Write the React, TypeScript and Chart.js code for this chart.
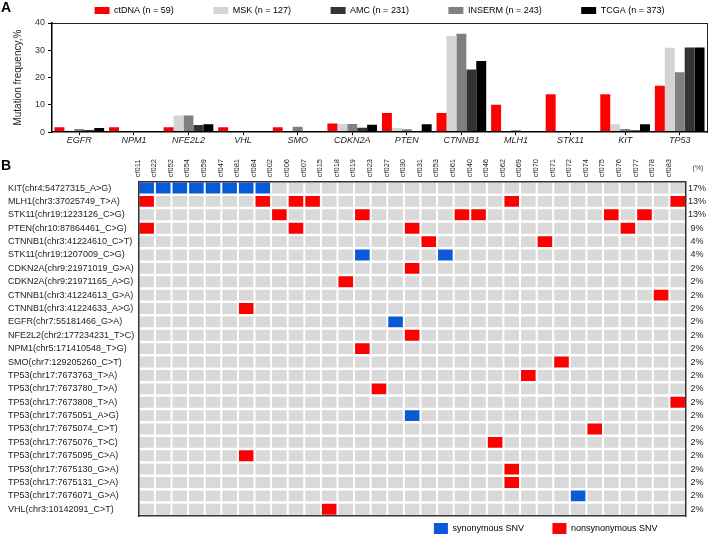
import React, { useEffect, useRef } from 'react';
import { Chart, registerables } from 'chart.js';

Chart.register(...registerables);

const FONT = "'Liberation Sans', Arial, Helvetica, sans-serif";
Chart.defaults.font.family = FONT;
Chart.defaults.color = '#222';

// ---------------- Panel A data ----------------
const genes = ['EGFR', 'NPM1', 'NFE2L2', 'VHL', 'SMO', 'CDKN2A', 'PTEN', 'CTNNB1', 'MLH1', 'STK11', 'KIT', 'TP53'];
// bar order within each gene group
const seriesLabels = ['ctDNA (n = 59)', 'MSK (n = 127)', 'INSERM (n = 243)', 'AMC (n = 231)', 'TCGA (n = 373)'];
// legend order
const legendOrderA = ['ctDNA (n = 59)', 'MSK (n = 127)', 'AMC (n = 231)', 'INSERM (n = 243)', 'TCGA (n = 373)'];
const ctDNA = [1.8, 1.8, 1.8, 1.8, 1.8, 3.2, 7.0, 7.0, 10.1, 13.9, 13.9, 17.0];
const msk = [0.6, 0, 6.1, 0, 0, 3.0, 1.5, 35.2, 0.1, 0.4, 2.9, 30.9];
const inserm = [1.2, 0, 6.1, 0.2, 2.0, 3.0, 1.1, 36.1, 0.7, 0.3, 1.2, 22.0];
const amc = [0.8, 0, 2.6, 0.1, 0, 1.6, 0.3, 23.0, 0.2, 0.3, 0.7, 31.0];
const tcga = [1.5, 0.3, 2.9, 0.1, 0.3, 2.7, 2.9, 26.1, 0.4, 0.3, 2.9, 31.0];
const seriesColors = ['#ff0000', '#d4d4d4', '#808080', '#333333', '#000000'];

// ---------------- Panel B data ----------------
const sampleIds = ['cf011', 'cf022', 'cf052', 'cf054', 'cf059', 'cf047', 'cf081', 'cf084', 'cf002', 'cf006', 'cf007', 'cf015', 'cf018', 'cf019', 'cf023', 'cf027', 'cf030', 'cf031', 'cf053', 'cf061', 'cf040', 'cf046', 'cf062', 'cf069', 'cf070', 'cf071', 'cf072', 'cf074', 'cf075', 'cf076', 'cf077', 'cf078', 'cf083'];
const variantLabels = [
  'KIT(chr4:54727315_A>G)',
  'MLH1(chr3:37025749_T>A)',
  'STK11(chr19:1223126_C>G)',
  'PTEN(chr10:87864461_C>G)',
  'CTNNB1(chr3:41224610_C>T)',
  'STK11(chr19:1207009_C>G)',
  'CDKN2A(chr9:21971019_G>A)',
  'CDKN2A(chr9:21971165_A>G)',
  'CTNNB1(chr3:41224613_G>A)',
  'CTNNB1(chr3:41224633_A>G)',
  'EGFR(chr7:55181466_G>A)',
  'NFE2L2(chr2:177234231_T>C)',
  'NPM1(chr5:171410548_T>G)',
  'SMO(chr7:129205260_C>T)',
  'TP53(chr17:7673763_T>A)',
  'TP53(chr17:7673780_T>A)',
  'TP53(chr17:7673808_T>A)',
  'TP53(chr17:7675051_A>G)',
  'TP53(chr17:7675074_C>T)',
  'TP53(chr17:7675076_T>C)',
  'TP53(chr17:7675095_C>A)',
  'TP53(chr17:7675130_G>A)',
  'TP53(chr17:7675131_C>A)',
  'TP53(chr17:7676071_G>A)',
  'VHL(chr3:10142091_C>T)',
];
const variantPct = ['17%', '13%', '13%', '9%', '4%', '4%', '2%', '2%', '2%', '2%', '2%', '2%', '2%', '2%', '2%', '2%', '2%', '2%', '2%', '2%', '2%', '2%', '2%', '2%', '2%'];
const synonymousHits = [
  ['cf011', 'cf022', 'cf052', 'cf054', 'cf059', 'cf047', 'cf081', 'cf084'],
  [], [], [], [],
  ['cf019', 'cf053'],
  [], [], [], [],
  ['cf027'],
  [], [], [], [], [], [],
  ['cf030'],
  [], [], [], [], [],
  ['cf072'],
  [],
];
const nonsynonymousHits = [
  [],
  ['cf011', 'cf084', 'cf006', 'cf007', 'cf062', 'cf083'],
  ['cf002', 'cf019', 'cf061', 'cf040', 'cf075', 'cf077'],
  ['cf011', 'cf006', 'cf030', 'cf076'],
  ['cf031', 'cf070'],
  [],
  ['cf030'],
  ['cf018'],
  ['cf078'],
  ['cf081'],
  [],
  ['cf030'],
  ['cf019'],
  ['cf071'],
  ['cf069'],
  ['cf023'],
  ['cf083'],
  [],
  ['cf074'],
  ['cf046'],
  ['cf081'],
  ['cf062'],
  ['cf062'],
  [],
  ['cf015'],
];
const BLUE = '#0a59d6';
const RED = '#ff0000';
const GRAY = '#d9d9d9';

const spacerItem = () => ({ text: '', fillStyle: 'rgba(0,0,0,0)', strokeStyle: 'rgba(0,0,0,0)', lineWidth: 0, hidden: false });

const panelLabel = (text: string, x: number, y: number) => ({
  id: 'panelLabel' + text,
  afterDraw(chart: any) {
    const ctx = chart.ctx;
    ctx.save();
    ctx.font = `bold 14px ${FONT}`;
    ctx.fillStyle = '#000';
    ctx.textAlign = 'left';
    ctx.textBaseline = 'alphabetic';
    ctx.fillText(text, x, y);
    ctx.restore();
  },
});

const pctHeader = {
  id: 'pctHeader',
  afterDraw(chart: any) {
    const s = chart.scales.yr;
    const ctx = chart.ctx;
    ctx.save();
    ctx.font = `7px ${FONT}`;
    ctx.fillStyle = '#444';
    ctx.textAlign = 'center';
    ctx.textBaseline = 'middle';
    ctx.fillText('(%)', (s.left + s.right) / 2 + 1, chart.chartArea.top - 13);
    ctx.restore();
  },
};

export default function App() {
  const refA = useRef<HTMLCanvasElement>(null);
  const refB = useRef<HTMLCanvasElement>(null);

  useEffect(() => {
    const seriesValues = [ctDNA, msk, inserm, amc, tcga];
    const chartA = new Chart(refA.current as HTMLCanvasElement, {
      type: 'bar',
      data: {
        labels: genes,
        datasets: seriesLabels.map((label, i) => ({
          label,
          data: seriesValues[i],
          backgroundColor: seriesColors[i],
          borderWidth: 0,
          categoryPercentage: 0.91,
          barPercentage: 1,
        })),
      },
      options: {
        responsive: false,
        animation: false,
        events: [],
        layout: { padding: { top: -4, left: 10, right: 1, bottom: 2 } },
        plugins: {
          tooltip: { enabled: false },
          legend: {
            position: 'top',
            fullSize: false,
            align: 'center',
            maxHeight: 27,
            labels: {
              boxWidth: 15,
              boxHeight: 7,
              padding: 10,
              color: '#222',
              font: { size: 9, family: FONT },
              generateLabels: () => {
                const items = legendOrderA.map((name) => {
                  const i = seriesLabels.indexOf(name);
                  return { text: name, fillStyle: seriesColors[i], strokeStyle: seriesColors[i], lineWidth: 0, hidden: false, datasetIndex: i };
                });
                const out: any[] = [];
                items.forEach((it, k) => {
                  out.push(it);
                  if (k < items.length - 1) out.push(spacerItem());
                });
                return out;
              },
            },
          },
        },
        scales: {
          x: {
            type: 'category',
            position: 'bottom',
            offset: true,
            grid: { display: true, drawOnChartArea: false, offset: false, tickLength: 3, color: '#000', lineWidth: 1 },
            border: { display: true, color: '#000', width: 1.5, z: 1 },
            ticks: { font: { size: 9, style: 'italic', family: FONT }, color: '#222', padding: 0, autoSkip: false, maxRotation: 0 },
          },
          x2: {
            type: 'category',
            position: 'top',
            offset: true,
            grid: { display: false, drawTicks: false },
            ticks: { display: false },
            border: { display: true, color: '#222', width: 1, z: 1 },
          },
          y: {
            type: 'linear',
            position: 'left',
            min: 0,
            max: 40,
            ticks: { stepSize: 10, font: { size: 9, family: FONT }, color: '#333', padding: 3 },
            grid: { drawOnChartArea: false, tickLength: 4, color: '#000' },
            border: { display: true, color: '#000', width: 1.5, z: 1 },
            title: { display: true, text: 'Mutation frequency,%', font: { size: 10, family: FONT }, color: '#222', padding: { top: 2, bottom: 8 } },
          },
          y2: {
            type: 'linear',
            position: 'right',
            min: 0,
            max: 40,
            grid: { display: false, drawTicks: false },
            ticks: { display: false },
            border: { display: true, color: '#222', width: 1, z: 1 },
          },
        },
      } as any,
      plugins: [panelLabel('A', 1, 12)],
    });

    const rowTicks = (scale: any) => {
      scale.ticks = variantLabels.map((_, i) => ({ value: i }));
    };

    const chartB = new Chart(refB.current as HTMLCanvasElement, {
      type: 'bar',
      data: {
        labels: sampleIds,
        datasets: variantLabels.map((label, r) => ({
          label,
          data: sampleIds.map(() => [r - 0.5, r + 0.5]),
          backgroundColor: sampleIds.map((id) =>
            synonymousHits[r].includes(id) ? BLUE : nonsynonymousHits[r].includes(id) ? RED : GRAY
          ),
          borderColor: '#ffffff',
          borderWidth: { top: 1.25, bottom: 1.25, left: 1, right: 1 },
          borderSkipped: false,
          inflateAmount: 0,
          categoryPercentage: 1,
          barPercentage: 1,
          grouped: false,
          xAxisID: 'x',
          yAxisID: 'y',
        })),
      },
      options: {
        responsive: false,
        animation: false,
        events: [],
        layout: { padding: { top: 7, left: 8, right: 0, bottom: 0 } },
        plugins: {
          tooltip: { enabled: false },
          legend: {
            position: 'bottom',
            fullSize: false,
            align: 'end',
            maxHeight: 17,
            labels: {
              boxWidth: 14,
              boxHeight: 11,
              padding: 5,
              color: '#222',
              font: { size: 9, family: FONT },
              generateLabels: () => [
                { text: 'synonymous SNV', fillStyle: BLUE, strokeStyle: BLUE, lineWidth: 0, hidden: false },
                spacerItem(),
                { text: 'nonsynonymous SNV', fillStyle: RED, strokeStyle: RED, lineWidth: 0, hidden: false },
                spacerItem(),
              ],
            },
          },
        },
        scales: {
          x: {
            type: 'category',
            position: 'top',
            offset: true,
            grid: { display: false, drawTicks: false },
            border: { display: true, color: '#333', width: 1.5, z: 1 },
            ticks: { autoSkip: false, minRotation: 90, maxRotation: 90, font: { size: 7.5, family: FONT }, color: '#222', padding: 4 },
          },
          xb: {
            type: 'category',
            position: 'bottom',
            offset: true,
            grid: { display: false, drawTicks: true, tickLength: 2 },
            ticks: { display: false },
            border: { display: true, color: '#333', width: 1.5, z: 1 },
          },
          y: {
            type: 'linear',
            position: 'left',
            min: -0.5,
            max: 24.5,
            reverse: true,
            afterBuildTicks: rowTicks,
            grid: { display: false, drawTicks: false },
            border: { display: true, color: '#333', width: 1.5, z: 1 },
            ticks: {
              autoSkip: false,
              crossAlign: 'far',
              font: { size: 9, family: FONT },
              color: '#222',
              padding: 2,
              callback: (v: any) => variantLabels[v] ?? '',
            },
          },
          yr: {
            type: 'linear',
            position: 'right',
            min: -0.5,
            max: 24.5,
            reverse: true,
            afterBuildTicks: rowTicks,
            grid: { display: false, drawTicks: false },
            border: { display: true, color: '#333', width: 1.5, z: 1 },
            ticks: {
              autoSkip: false,
              crossAlign: 'center',
              font: { size: 9, family: FONT },
              color: '#222',
              padding: 2,
              callback: (v: any) => variantPct[v] ?? '',
            },
          },
        },
      } as any,
      plugins: [panelLabel('B', 1, 22), pctHeader],
    });

    return () => {
      chartA.destroy();
      chartB.destroy();
    };
  }, []);

  return (
    <div style={{ position: 'fixed', left: 0, top: 0, width: 708, height: 535, background: '#fff', overflow: 'hidden' }}>
      <canvas ref={refA} width={708} height={148} style={{ position: 'absolute', left: 0, top: 0 }} />
      <canvas ref={refB} width={708} height={387} style={{ position: 'absolute', left: 0, top: 148 }} />
    </div>
  );
}
